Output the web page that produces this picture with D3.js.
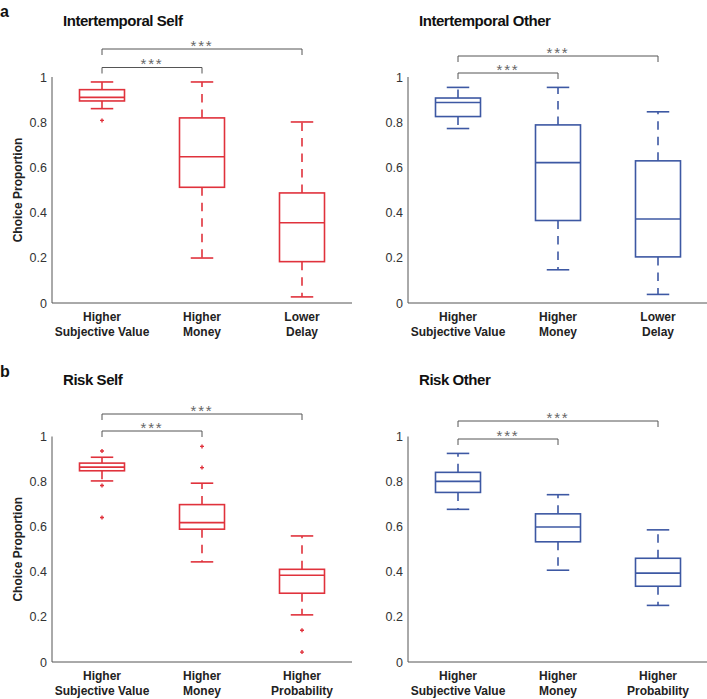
<!DOCTYPE html>
<html><head><meta charset="utf-8">
<script src="https://cdn.jsdelivr.net/npm/d3@7/dist/d3.min.js"></script>
<style>body{margin:0;background:#fff}svg{display:block}</style>
</head><body>
<script>
// ---- data ----
const catsIntertemporal = [["Higher","Subjective Value"],["Higher","Money"],["Lower","Delay"]];
const catsRisk = [["Higher","Subjective Value"],["Higher","Money"],["Higher","Probability"]];
const yTicks = [0, 0.2, 0.4, 0.6, 0.8, 1];
const yTickLabels = ["0","0.2","0.4","0.6","0.8","1"];
// each box: [lower whisker, Q1, median, Q3, upper whisker]
const itSelfStats  = [[0.860,0.894,0.910,0.944,0.978],[0.199,0.512,0.647,0.819,0.978],[0.027,0.183,0.355,0.487,0.801]];
const itSelfOut    = [[0.808],[],[]];
const itOtherStats = [[0.772,0.825,0.887,0.907,0.954],[0.147,0.365,0.621,0.788,0.954],[0.038,0.204,0.372,0.629,0.846]];
const itOtherOut   = [[],[],[]];
const riskSelfStats  = [[0.803,0.848,0.864,0.882,0.908],[0.444,0.589,0.618,0.698,0.793],[0.209,0.305,0.385,0.411,0.559]];
const riskSelfOut    = [[0.936,0.783,0.641],[0.956,0.862],[0.141,0.044]];
const riskOtherStats = [[0.677,0.752,0.801,0.841,0.925],[0.407,0.533,0.599,0.657,0.742],[0.251,0.336,0.394,0.460,0.586]];
const riskOtherOut   = [[],[],[]];
const sigLabel = "***";

const RED = "#e0323c", BLUE = "#3d58a3";

const panels = [
  {title:"Intertemporal Self", cats:catsIntertemporal, stats:itSelfStats, out:itSelfOut, color:RED,
   x0:52, top:77, bottom:303, ylab:true, letter:"a", br:[67.5,49]},
  {title:"Intertemporal Other", cats:catsIntertemporal, stats:itOtherStats, out:itOtherOut, color:BLUE,
   x0:408, top:77, bottom:303, ylab:false, br:[73,56]},
  {title:"Risk Self", cats:catsRisk, stats:riskSelfStats, out:riskSelfOut, color:RED,
   x0:52, top:436.5, bottom:662, ylab:true, letter:"b", br:[431,414]},
  {title:"Risk Other", cats:catsRisk, stats:riskOtherStats, out:riskOtherOut, color:BLUE,
   x0:408, top:436.5, bottom:662, ylab:false, br:[439,421]}
];

const svg = d3.select("body").append("svg").attr("width",707).attr("height",699)
  .style("font-family","'Liberation Sans', Arial, Helvetica, sans-serif");

panels.forEach(p => {
  const g = svg.append("g");
  const x = d3.scaleLinear().domain([0.5,3.5]).range([p.x0, p.x0+300]);
  const y = d3.scaleLinear().domain([0,1]).range([p.bottom, p.top]);
  const bw = 45;

  // axes
  g.append("line").attr("x1",p.x0).attr("x2",p.x0).attr("y1",y(1)).attr("y2",y(0))
    .attr("stroke","#555").attr("stroke-width",1);
  g.append("line").attr("x1",p.x0).attr("x2",p.x0+300).attr("y1",y(0)).attr("y2",y(0))
    .attr("stroke","#555").attr("stroke-width",1);
  const ya = d3.axisLeft(y).tickValues(yTicks).tickSize(0).tickPadding(5)
    .tickFormat((d,i)=>yTickLabels[i]);
  const yg = g.append("g").attr("transform",`translate(${p.x0},0)`).call(ya)
    .attr("font-size",12.5).attr("font-family","'Liberation Sans', Arial, sans-serif");
  yg.select(".domain").remove();
  yg.selectAll("text").attr("fill","#333").style("font-size","12.5px");

  // x labels
  p.cats.forEach((c,i) => {
    const t = g.append("text").attr("text-anchor","middle").attr("font-weight","bold")
      .attr("font-size",12).attr("fill","#222");
    t.append("tspan").attr("x",x(i+1)).attr("y",y(0)+18).text(c[0]);
    t.append("tspan").attr("x",x(i+1)).attr("y",y(0)+33).text(c[1]);
  });

  // title
  g.append("text").attr("x",p.x0+11).attr("y",p.top-51.5).attr("font-weight","bold")
    .attr("font-size",15).attr("letter-spacing",-0.45).attr("fill","#111").text(p.title);
  if (p.letter) g.append("text").attr("x",0).attr("y",p.top-60).attr("font-weight","bold")
    .attr("font-size",16).attr("fill","#111").text(p.letter);
  if (p.ylab) g.append("text").attr("transform",`translate(${p.x0-30.5},${(p.top+p.bottom)/2}) rotate(-90)`)
    .attr("text-anchor","middle").attr("font-weight","bold").attr("font-size",12).attr("fill","#222")
    .text("Choice Proportion");

  // boxes
  p.stats.forEach((s,i) => {
    const cx = x(i+1);
    const [lo,q1,med,q3,hi] = s;
    const col = p.color;
    // whiskers (dashed)
    g.append("line").attr("x1",cx).attr("x2",cx).attr("y1",y(q3)).attr("y2",y(hi))
      .attr("stroke",col).attr("stroke-width",1.6).attr("stroke-dasharray","8.5,7");
    g.append("line").attr("x1",cx).attr("x2",cx).attr("y1",y(q1)).attr("y2",y(lo))
      .attr("stroke",col).attr("stroke-width",1.6).attr("stroke-dasharray","8.5,7");
    // caps
    [lo,hi].forEach(v => g.append("line").attr("x1",cx-bw/4).attr("x2",cx+bw/4)
      .attr("y1",y(v)).attr("y2",y(v)).attr("stroke",col).attr("stroke-width",1.6));
    // box
    g.append("rect").attr("x",cx-bw/2).attr("width",bw).attr("y",y(q3)).attr("height",y(q1)-y(q3))
      .attr("fill","none").attr("stroke",col).attr("stroke-width",1.6);
    g.append("line").attr("x1",cx-bw/2).attr("x2",cx+bw/2).attr("y1",y(med)).attr("y2",y(med))
      .attr("stroke",col).attr("stroke-width",1.6);
    // outliers
    p.out[i].forEach(v => g.append("path")
      .attr("d",`M${cx-2},${y(v)}H${cx+2}M${cx},${y(v)-2}V${y(v)+2}`)
      .attr("stroke",col).attr("stroke-width",1.4));
  });

  // significance brackets
  [[1,2,p.br[0]],[1,3,p.br[1]]].forEach(([a,b,yy]) => {
    g.append("path").attr("d",`M${x(a)},${yy+6}V${yy}H${x(b)}V${yy+6}`)
      .attr("fill","none").attr("stroke","#555").attr("stroke-width",1);
    g.append("text").attr("x",(x(a)+x(b))/2).attr("y",yy+1.5).attr("text-anchor","middle")
      .attr("font-size",15).attr("fill","#666").attr("letter-spacing",1.8).text(sigLabel);
  });
});
</script>
</body></html>
